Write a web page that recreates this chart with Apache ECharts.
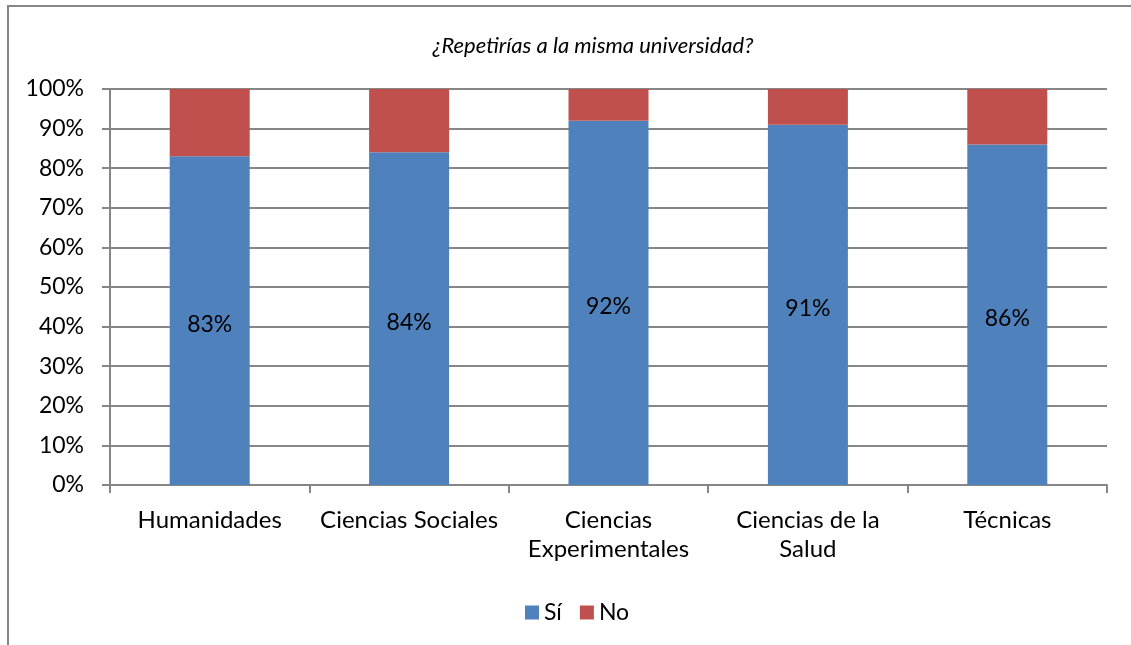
<!DOCTYPE html>
<html>
<head>
<meta charset="utf-8">
<script src="https://cdn.jsdelivr.net/npm/echarts@6/dist/echarts.min.js"></script>
<style>
  html, body { margin: 0; padding: 0; background: #fff; }
  #chart { width: 1131px; height: 645px; }
</style>
</head>
<body>
<div id="chart"></div>
<script>
var categories = ["Humanidades", "Ciencias Sociales", "Ciencias\nExperimentales", "Ciencias de la\nSalud", "Técnicas"];
var siData = [83, 84, 92, 91, 86];
var noData = [17, 16, 8, 9, 14];

var myChart = echarts.init(document.getElementById("chart"));
var font = "Lato, 'Open Sans', sans-serif";

var option = {
  animation: false,
  textStyle: { fontFamily: font },
  graphic: [
    {
      type: "rect",
      shape: { x: 8, y: 6, width: 1140, height: 660 },
      style: { fill: "none", stroke: "#868686", lineWidth: 2 },
      silent: true,
    },
  ],
  title: {
    text: "¿Repetirías a la misma universidad?",
    left: 588,
    top: 30,
    textAlign: "center",
    textStyle: {
      fontFamily: font,
      fontStyle: "italic",
      fontWeight: "normal",
      fontSize: 22,
      color: "#000",
    },
  },
  legend: {
    data: ["Sí", "No"],
    left: 520,
    top: 596,
    itemWidth: 14,
    itemHeight: 14,
    itemGap: 18,
    icon: "rect",
    textStyle: { fontFamily: font, fontSize: 23, color: "#000" },
  },
  grid: {
    left: 110,
    right: 24,
    top: 89,
    bottom: 160,
  },
  xAxis: {
    type: "category",
    data: categories,
    axisLine: { lineStyle: { color: "#868686", width: 2 } },
    axisTick: { show: true, interval: 0, length: 8, lineStyle: { color: "#868686", width: 2 } },
    axisLabel: {
      interval: 0,
      color: "#000",
      fontSize: 24,
      margin: 21,
      lineHeight: 29,
      fontFamily: font,
    },
  },
  yAxis: {
    type: "value",
    min: 0,
    max: 100,
    interval: 10,
    axisLine: { show: true, lineStyle: { color: "#868686", width: 2 } },
    axisTick: { show: true, length: 8, lineStyle: { color: "#868686", width: 2 } },
    splitLine: { lineStyle: { color: "#868686", width: 2 } },
    axisLabel: {
      color: "#000",
      fontSize: 23,
      margin: 26,
      fontFamily: font,
      formatter: function (v) { return v + "%"; },
    },
  },
  series: [
    {
      name: "Sí",
      type: "bar",
      stack: "total",
      barWidth: 80,
      data: siData,
      itemStyle: { color: "#4f81bd" },
      label: {
        show: true,
        position: "inside",
        color: "#000",
        fontSize: 23,
        fontFamily: font,
        offset: [0, 4],
        formatter: function (p) { return p.value + "%"; },
      },
    },
    {
      name: "No",
      type: "bar",
      stack: "total",
      barWidth: 80,
      data: noData,
      itemStyle: { color: "#c0504d" },
    },
  ],
};

option && myChart.setOption(option);
</script>
</body>
</html>
